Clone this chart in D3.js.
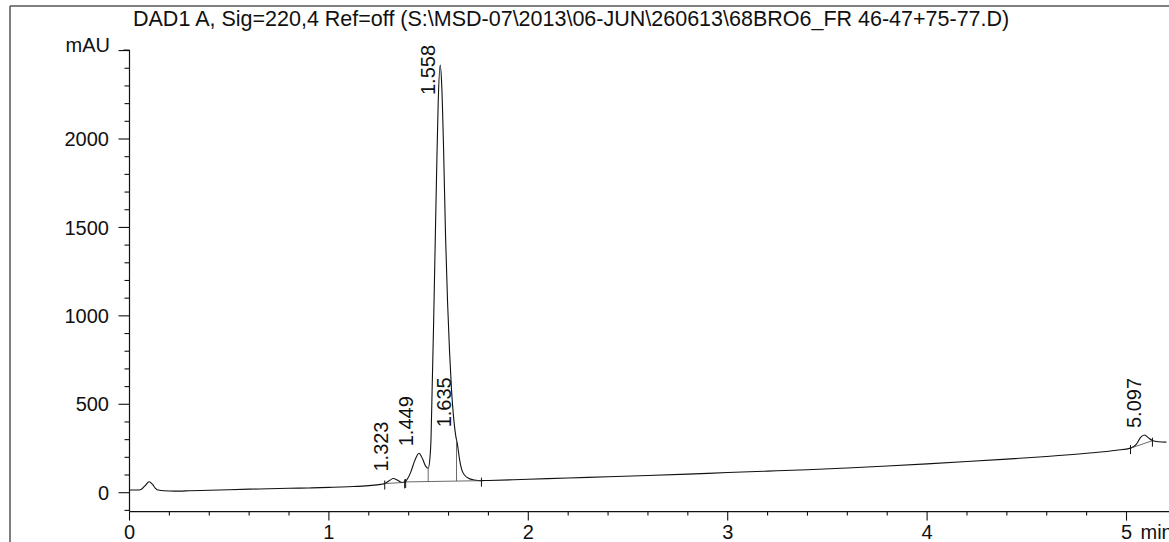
<!DOCTYPE html>
<html>
<head>
<meta charset="utf-8">
<script src="https://cdn.jsdelivr.net/npm/d3@7"></script>
<style>
  html, body { margin: 0; padding: 0; background: #fff; }
  svg { display: block; font-family: "Liberation Sans", Arial, sans-serif; }
</style>
</head>
<body>
<svg id="chart" width="1169" height="542"></svg>
<script>
// ---- data ----
const titleText = "DAD1 A, Sig=220,4 Ref=off (S:\\MSD-07\\2013\\06-JUN\\260613\\68BRO6_FR 46-47+75-77.D)";
const yUnit = "mAU";
const xUnit = "min";
const yTickLabels = [0, 500, 1000, 1500, 2000];
const xTickLabels = [0, 1, 2, 3, 4, 5];

const traceTime = [0, 0.04, 0.06, 0.08, 0.098, 0.115, 0.13, 0.15, 0.2, 0.25, 0.3, 0.4, 0.5, 0.6, 0.7, 0.8, 0.9, 1.0, 1.1, 1.2,
  1.26, 1.28, 1.30, 1.323, 1.345, 1.365, 1.38, 1.395, 1.41, 1.43, 1.452, 1.47, 1.485, 1.498,
  1.507, 1.512, 1.518, 1.525, 1.532, 1.54, 1.548, 1.558, 1.566, 1.575, 1.585, 1.595, 1.605, 1.615, 1.625, 1.635, 1.645, 1.655, 1.665, 1.68, 1.70, 1.73, 1.76,
  1.8, 2.0, 2.2, 2.4, 2.6, 2.8, 3.0, 3.2, 3.4, 3.6, 3.8, 4.0, 4.2, 4.4, 4.6, 4.8, 4.95, 5.02, 5.05, 5.07, 5.09, 5.11, 5.13, 5.16, 5.2];
const traceSignal = [15, 15, 20, 42, 62, 48, 25, 14, 10, 9, 11, 14, 17, 20, 22, 25, 27, 30, 34, 40,
  47, 52, 66, 80, 70, 58, 60, 80, 115, 180, 223, 190, 150, 138,
  200, 300, 600, 950, 1350, 1800, 2200, 2418, 2300, 1950, 1450, 1080, 800, 580, 430, 330, 270, 190, 135, 100, 82, 72, 68,
  69, 76, 83, 90, 97, 105, 114, 122, 130, 140, 151, 163, 176, 190, 205, 223, 240, 252, 275, 312, 326, 310, 295, 288, 286];

const peakRT = ["1.323", "1.449", "1.558", "1.635", "5.097"];
const peakHeight = [80, 223, 2418, 330, 326];

// integration baselines
const baselineStart = [1.28, 1.385, 5.02];
const baselineStartVal = [52, 61, 252];
const baselineEnd = [1.38, 1.765, 5.13];
const baselineEndVal = [58, 68, 294];
// drop lines between fused peaks
const dropTimes = [1.498, 1.64];

// ---- layout ----
const svg = d3.select("#chart");
const x = d3.scaleLinear().domain([0, 5.2]).range([129.5, 129.5 + 199.4 * 5.2]);
const y = d3.scaleLinear().domain([0, 2000]).range([492.7, 139]);
const yMin = -107, yMax = 2503;
const ink = "#111";

// frame
svg.append("line").attr("x1", 10).attr("x2", 1169).attr("y1", 6).attr("y2", 6)
  .attr("stroke", "#555").attr("stroke-width", 1.5);
svg.append("line").attr("x1", 10).attr("x2", 10).attr("y1", 6).attr("y2", 542)
  .attr("stroke", "#555").attr("stroke-width", 1.5);

// title
svg.append("text").attr("x", 133).attr("y", 26).attr("font-size", 21.5).attr("fill", ink).text(titleText);

// y axis
const yAxisX = x(0);
svg.append("line").attr("x1", yAxisX).attr("x2", yAxisX).attr("y1", y(yMin)).attr("y2", y(yMax))
  .attr("stroke", ink).attr("stroke-width", 1.2);
const yMinor = d3.range(-100, 2501, 100);
svg.selectAll(".ytick").data(yMinor).enter().append("line")
  .attr("x1", d => yAxisX - (d % 500 === 0 ? 11 : 5)).attr("x2", yAxisX)
  .attr("y1", d => y(d)).attr("y2", d => y(d)).attr("stroke", ink).attr("stroke-width", 1.1);
svg.append("line").attr("x1", yAxisX - 6).attr("x2", yAxisX).attr("y1", y(yMax)).attr("y2", y(yMax))
  .attr("stroke", ink).attr("stroke-width", 1.1);
svg.selectAll(".ylab").data(yTickLabels).enter().append("text")
  .attr("x", 109).attr("y", d => y(d)).attr("dy", "0.36em").attr("text-anchor", "end")
  .attr("font-size", 20).attr("fill", ink).text(d => d);
svg.append("text").attr("x", 110).attr("y", y(yMax)).attr("dy", "0.1em").attr("text-anchor", "end")
  .attr("font-size", 20).attr("fill", ink).text(yUnit);

// x axis
const xAxisY = y(yMin);
svg.append("line").attr("x1", x(0)).attr("x2", 1169).attr("y1", xAxisY).attr("y2", xAxisY)
  .attr("stroke", ink).attr("stroke-width", 1.2);
const xMinor = d3.range(0, 26).map(i => i * 0.2);
svg.selectAll(".xtick").data(xMinor).enter().append("line")
  .attr("x1", d => x(d)).attr("x2", d => x(d))
  .attr("y1", xAxisY).attr("y2", (d, i) => xAxisY + (i % 5 === 0 ? 9 : 4))
  .attr("stroke", ink).attr("stroke-width", 1.1);
svg.selectAll(".xlab").data(xTickLabels).enter().append("text")
  .attr("x", d => x(d)).attr("y", 539).attr("text-anchor", "middle")
  .attr("font-size", 20).attr("fill", ink).text(d => d);
svg.append("text").attr("x", x(5) + 14).attr("y", 539)
  .attr("font-size", 20).attr("fill", ink).text(xUnit);

// trace
const pts = traceTime.map((t, i) => [t, traceSignal[i]]);
const line = d3.line().x(d => x(d[0])).y(d => y(d[1])).curve(d3.curveMonotoneX);
svg.append("path").attr("d", line(pts)).attr("fill", "none").attr("stroke", ink).attr("stroke-width", 1.1);

function interp(ts, vs, t) {
  for (let i = 0; i < ts.length - 1; i++) {
    if (t >= ts[i] && t <= ts[i + 1]) {
      const f = (t - ts[i]) / (ts[i + 1] - ts[i]);
      return vs[i] + f * (vs[i + 1] - vs[i]);
    }
  }
  return vs[vs.length - 1];
}
baselineStart.forEach((t0, i) => {
  const t1 = baselineEnd[i], v0 = baselineStartVal[i], v1 = baselineEndVal[i];
  svg.append("line").attr("x1", x(t0)).attr("x2", x(t1)).attr("y1", y(v0)).attr("y2", y(v1))
    .attr("stroke", "#444").attr("stroke-width", 0.8);
  [[t0, v0], [t1, v1]].forEach(([t, v]) => {
    svg.append("line").attr("x1", x(t)).attr("x2", x(t)).attr("y1", y(v) - 3).attr("y2", y(v) + 6)
      .attr("stroke", ink).attr("stroke-width", 1);
  });
});
dropTimes.forEach(t => {
  const top = interp(traceTime, traceSignal, t);
  const bot = baselineStartVal[1] + (t - baselineStart[1]) / (baselineEnd[1] - baselineStart[1]) * (baselineEndVal[1] - baselineStartVal[1]);
  svg.append("line").attr("x1", x(t)).attr("x2", x(t)).attr("y1", y(top)).attr("y2", y(bot))
    .attr("stroke", "#444").attr("stroke-width", 0.8);
});

// peak labels (rotated)
const labelSize = 20, topLimit = 45;
peakRT.forEach((rt, i) => {
  const px = x(+rt), py = y(peakHeight[i]);
  const len = rt.length * 0.556 * labelSize - 0.278 * labelSize;
  let start = py - 7;
  if (start - len < topLimit) start = topLimit + len;
  svg.append("text")
    .attr("transform", `translate(${px - 5},${start}) rotate(-90)`)
    .attr("font-size", labelSize).attr("fill", ink).text(rt);
});
</script>
</body>
</html>
